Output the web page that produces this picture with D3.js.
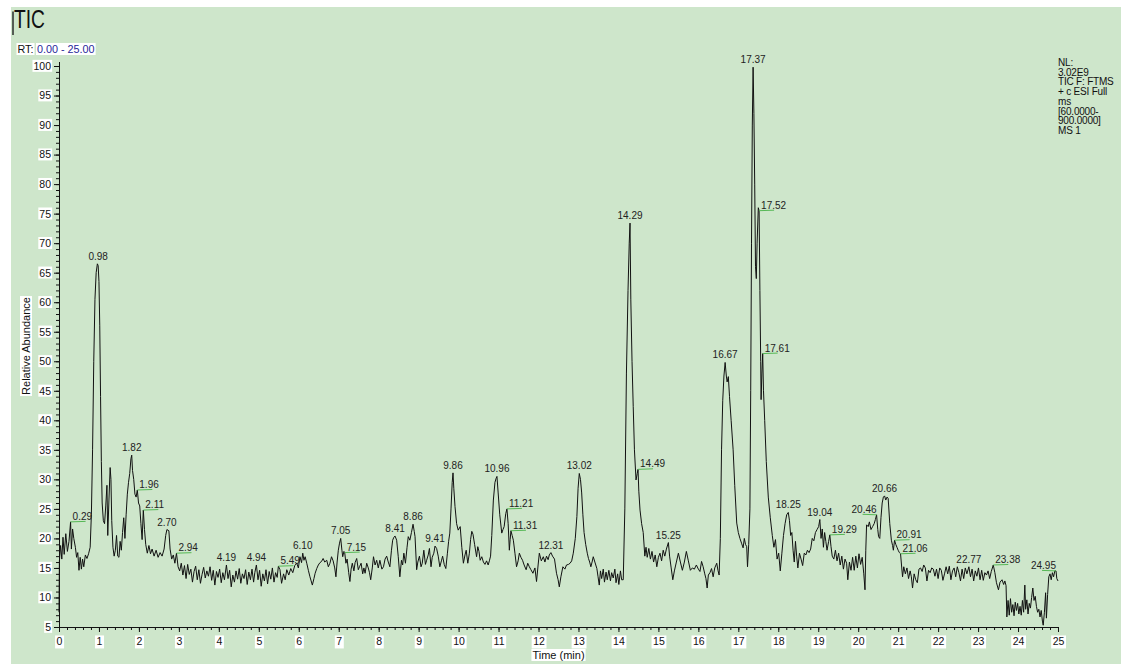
<!DOCTYPE html>
<html><head><meta charset="utf-8">
<script src="https://cdn.jsdelivr.net/npm/d3@7"></script>
<style>
html,body{margin:0;padding:0;background:#fff;}
svg{display:block;}
text{font-family:"Liberation Sans",Arial,sans-serif;}
</style></head><body>
<svg id="c" width="1121" height="664"></svg>
<script>
const xTickValues = [0,1,2,3,4,5,6,7,8,9,10,11,12,13,14,15,16,17,18,19,20,21,22,23,24,25];
const yTickValues = [5,10,15,20,25,30,35,40,45,50,55,60,65,70,75,80,85,90,95,100];
const trace = [
[0.00,7.5],[0.01,16.2],[0.04,18.8],[0.07,16.5],[0.10,20.2],[0.13,17.3],[0.17,20.8],[0.21,17.8],[0.25,19.5],[0.29,22.8],[0.31,18.2],[0.34,21.6],[0.37,20.0],[0.41,18.5],[0.44,16.8],[0.47,17.6],[0.50,14.6],[0.53,16.8],[0.56,14.8],[0.59,16.5],[0.62,15.2],[0.66,17.2],[0.70,16.6],[0.74,17.4],[0.78,18.5],[0.81,24.0],[0.84,35.0],[0.87,50.0],[0.90,60.5],[0.93,65.0],[0.96,66.5],[0.98,66.2],[1.00,63.5],[1.02,56.0],[1.04,44.0],[1.06,33.0],[1.08,26.0],[1.11,23.0],[1.14,22.5],[1.17,25.5],[1.20,29.0],[1.22,20.5],[1.25,26.5],[1.28,32.0],[1.30,30.0],[1.32,23.0],[1.35,18.5],[1.38,17.0],[1.41,18.0],[1.44,20.5],[1.47,17.0],[1.50,16.8],[1.53,19.5],[1.56,18.0],[1.59,21.0],[1.62,23.5],[1.65,20.0],[1.68,24.0],[1.71,27.5],[1.74,29.5],[1.77,31.0],[1.80,33.5],[1.82,34.1],[1.84,31.5],[1.87,30.0],[1.90,27.5],[1.93,27.0],[1.96,28.2],[1.99,26.0],[2.02,25.5],[2.05,22.5],[2.08,19.8],[2.11,24.8],[2.14,21.5],[2.17,19.0],[2.21,17.5],[2.25,18.8],[2.29,17.4],[2.33,18.2],[2.38,17.0],[2.43,18.0],[2.48,16.8],[2.53,17.6],[2.58,17.0],[2.63,18.2],[2.67,20.5],[2.70,21.5],[2.75,21.3],[2.78,18.2],[2.82,16.5],[2.86,17.2],[2.90,15.8],[2.94,17.5],[2.98,15.2],
[3.02,14.5],[3.06,15.8],[3.10,13.8],[3.14,15.4],[3.18,13.2],[3.22,15.6],[3.26,13.9],[3.30,14.8],[3.34,12.6],[3.38,14.4],[3.42,15.3],[3.46,13.0],[3.50,14.7],[3.54,12.4],[3.58,13.9],[3.62,15.1],[3.66,13.3],[3.70,14.5],[3.74,13.6],[3.78,15.2],[3.82,12.9],[3.86,14.6],[3.90,12.1],[3.94,14.4],[3.98,13.4],[4.02,14.8],[4.06,12.5],[4.10,14.2],[4.14,13.0],[4.19,15.5],[4.23,13.2],[4.27,14.6],[4.31,11.8],[4.35,13.8],[4.39,12.6],[4.43,14.5],[4.47,13.1],[4.51,14.9],[4.55,12.4],[4.59,14.0],[4.63,13.2],[4.67,14.7],[4.71,12.2],[4.75,14.3],[4.79,13.0],[4.83,14.8],[4.87,12.6],[4.90,14.2],[4.94,15.5],[4.98,13.0],[5.02,14.6],[5.06,11.9],[5.10,14.0],[5.14,12.8],[5.18,14.7],[5.22,12.3],[5.26,14.4],[5.30,13.1],[5.34,15.0],[5.38,12.6],[5.42,14.2],[5.46,13.4],[5.49,15.3],[5.53,14.7],[5.57,12.4],[5.62,14.0],[5.66,13.0],[5.70,14.7],[5.75,13.8],[5.80,14.9],[5.85,14.2],[5.90,15.4],[5.95,15.8],[5.99,15.0],
[6.03,16.9],[6.07,15.9],[6.10,17.5],[6.13,16.3],[6.16,16.9],[6.20,15.8],[6.24,14.6],[6.28,13.5],[6.31,12.8],[6.34,12.1],[6.38,13.2],[6.41,14.1],[6.45,14.9],[6.49,15.5],[6.53,15.9],[6.57,16.1],[6.61,16.6],[6.65,16.0],[6.70,16.3],[6.74,15.2],[6.78,15.8],[6.82,16.9],[6.86,16.2],[6.90,15.0],[6.93,13.5],[6.96,16.0],[6.99,18.0],[7.02,19.2],[7.05,20.0],[7.08,18.0],[7.10,16.9],[7.13,17.8],[7.15,17.6],[7.18,15.8],[7.21,16.5],[7.25,14.2],[7.28,12.7],[7.31,14.8],[7.34,15.8],[7.38,14.5],[7.41,15.9],[7.45,16.6],[7.49,14.7],[7.52,15.2],[7.56,15.8],[7.60,14.0],[7.63,15.0],[7.66,14.1],[7.70,15.8],[7.74,15.0],[7.77,14.2],[7.80,13.0],[7.84,15.0],[7.87,16.9],[7.91,15.5],[7.95,16.3],[7.99,15.0],
[8.03,16.3],[8.08,14.8],[8.12,15.2],[8.16,16.5],[8.20,17.0],[8.24,16.0],[8.28,15.2],[8.32,18.0],[8.35,19.7],[8.38,20.2],[8.41,20.4],[8.45,19.7],[8.49,16.9],[8.53,13.5],[8.57,16.3],[8.60,15.5],[8.63,17.5],[8.67,15.8],[8.71,18.5],[8.74,20.3],[8.78,19.7],[8.82,21.0],[8.86,22.4],[8.89,21.2],[8.91,20.3],[8.95,14.7],[8.98,16.0],[9.02,17.0],[9.06,15.2],[9.09,15.8],[9.13,18.0],[9.17,15.6],[9.20,16.3],[9.24,17.2],[9.27,18.3],[9.31,15.2],[9.34,16.8],[9.38,17.5],[9.41,18.7],[9.45,18.3],[9.49,17.0],[9.53,15.2],[9.57,16.2],[9.60,17.0],[9.64,15.6],[9.68,14.9],[9.72,17.5],[9.75,19.5],[9.78,20.9],[9.81,25.0],[9.84,29.5],[9.86,31.1],[9.88,28.5],[9.91,25.4],[9.95,22.5],[9.99,21.4],
[10.04,22.0],[10.08,18.5],[10.12,15.8],[10.16,17.2],[10.19,18.0],[10.23,15.8],[10.27,17.5],[10.30,19.8],[10.33,21.2],[10.36,20.7],[10.40,19.0],[10.45,16.9],[10.48,18.6],[10.51,17.8],[10.54,16.3],[10.58,16.9],[10.62,16.0],[10.66,15.6],[10.70,16.2],[10.74,15.5],[10.77,16.2],[10.80,17.0],[10.83,20.5],[10.87,26.5],[10.91,29.5],[10.94,30.2],[10.96,30.5],[10.99,27.7],[11.03,24.0],[11.08,20.9],[11.11,21.5],[11.14,22.0],[11.18,24.2],[11.21,25.0],[11.24,22.5],[11.27,18.0],[11.29,19.8],[11.31,21.3],[11.34,20.5],[11.37,19.7],[11.41,17.5],[11.45,15.2],[11.49,16.2],[11.52,17.5],[11.56,16.8],[11.60,16.3],[11.64,15.5],[11.69,14.7],[11.73,15.8],[11.77,15.2],[11.81,14.7],[11.86,14.1],[11.91,15.0],[11.95,12.7],[11.99,15.5],
[12.02,17.5],[12.07,16.2],[12.12,16.9],[12.16,16.0],[12.20,17.0],[12.24,16.4],[12.27,17.2],[12.31,17.6],[12.35,17.0],[12.40,16.5],[12.45,14.1],[12.49,13.0],[12.52,11.8],[12.56,13.5],[12.61,15.2],[12.66,14.8],[12.70,15.5],[12.75,15.6],[12.79,15.8],[12.83,16.2],[12.87,17.5],[12.92,20.0],[12.96,23.7],[12.99,28.5],[13.02,31.0],[13.05,30.0],[13.08,27.7],[13.11,24.0],[13.14,21.0],[13.18,19.0],[13.22,17.5],[13.25,16.6],[13.28,16.0],[13.31,15.2],[13.34,16.0],[13.37,16.9],[13.41,16.0],[13.46,14.9],[13.49,13.5],[13.52,12.1],[13.55,14.5],[13.58,13.2],[13.62,14.8],[13.65,12.6],[13.69,14.3],[13.72,13.0],[13.76,14.6],[13.80,12.8],[13.83,14.2],[13.87,13.3],[13.91,14.8],[13.94,12.5],[13.98,14.0],
[14.01,12.2],[14.05,14.5],[14.08,13.0],[14.12,13.0],[14.16,25.0],[14.20,48.0],[14.24,62.0],[14.27,70.0],[14.29,73.4],[14.31,60.4],[14.34,50.0],[14.37,42.3],[14.40,35.0],[14.44,29.9],[14.47,31.0],[14.49,31.7],[14.51,28.0],[14.54,24.8],[14.58,22.5],[14.62,21.0],[14.66,17.0],[14.69,18.5],[14.72,16.8],[14.76,18.3],[14.80,16.5],[14.84,17.8],[14.88,16.0],[14.92,17.2],[14.96,15.2],[15.00,16.8],[15.04,17.5],[15.08,16.2],[15.12,18.0],[15.16,17.0],[15.20,18.2],[15.25,19.3],[15.28,17.0],[15.32,15.0],[15.36,13.0],[15.40,14.5],[15.45,16.0],[15.50,17.5],[15.55,16.0],[15.60,14.6],[15.65,16.0],[15.70,17.8],[15.75,16.2],[15.80,14.6],[15.85,15.0],[15.90,14.8],[15.95,15.5],
[16.00,14.8],[16.04,14.4],[16.08,16.1],[16.12,15.2],[16.16,14.0],[16.19,13.2],[16.22,11.6],[16.25,13.8],[16.29,14.2],[16.33,14.9],[16.37,13.5],[16.41,15.0],[16.46,15.8],[16.49,14.6],[16.52,13.8],[16.55,20.0],[16.58,35.0],[16.61,43.4],[16.64,47.5],[16.67,49.8],[16.70,47.5],[16.72,46.5],[16.75,47.4],[16.78,44.0],[16.82,40.0],[16.87,35.0],[16.91,29.0],[16.96,22.6],[17.00,21.0],[17.04,20.0],[17.08,19.2],[17.12,18.4],[17.15,20.0],[17.18,19.0],[17.21,18.6],[17.23,15.2],[17.26,19.0],[17.29,25.0],[17.31,45.0],[17.33,70.0],[17.35,90.0],[17.37,99.8],[17.39,92.0],[17.41,80.0],[17.43,66.0],[17.45,64.0],[17.47,70.0],[17.50,76.0],[17.52,75.5],[17.54,62.0],[17.56,50.0],[17.57,43.5],[17.59,48.0],[17.61,51.3],[17.63,45.0],[17.66,40.0],[17.70,33.0],[17.75,27.0],[17.80,23.5],[17.85,20.5],[17.89,18.5],[17.93,19.8],[17.97,16.5],
[18.01,17.5],[18.05,14.5],[18.09,17.5],[18.13,20.5],[18.17,22.5],[18.21,24.0],[18.25,24.4],[18.28,23.0],[18.31,20.5],[18.34,21.0],[18.37,18.0],[18.40,16.0],[18.43,19.5],[18.46,17.0],[18.49,15.0],[18.53,17.5],[18.57,16.5],[18.61,15.4],[18.65,17.5],[18.69,17.2],[18.73,18.0],[18.77,17.6],[18.81,18.2],[18.85,20.0],[18.89,19.6],[18.93,21.0],[18.97,21.5],[19.01,22.0],[19.04,23.2],[19.07,20.0],[19.10,21.6],[19.13,18.5],[19.16,21.0],[19.19,19.5],[19.22,18.0],[19.26,19.5],[19.29,20.6],[19.32,18.6],[19.35,17.0],[19.39,16.5],[19.43,18.0],[19.47,16.2],[19.51,17.5],[19.55,15.5],[19.59,17.0],[19.63,14.8],[19.67,16.5],[19.71,15.8],[19.74,13.0],[19.78,16.0],[19.82,14.6],[19.86,16.8],[19.90,14.6],[19.94,17.0],[19.98,15.0],
[20.02,17.4],[20.06,15.6],[20.10,16.8],[20.14,14.0],[20.17,11.3],[20.19,18.0],[20.21,22.3],[20.25,22.0],[20.28,22.8],[20.32,21.5],[20.36,22.0],[20.40,22.5],[20.43,23.2],[20.46,24.0],[20.49,21.5],[20.51,20.3],[20.54,20.0],[20.57,23.5],[20.60,26.0],[20.63,27.0],[20.66,27.2],[20.69,26.5],[20.72,27.0],[20.75,26.8],[20.79,22.5],[20.83,19.7],[20.86,18.8],[20.88,18.0],[20.91,19.7],[20.94,19.0],[20.97,18.5],[21.00,18.0],[21.03,17.6],[21.06,17.4],[21.09,15.0],[21.11,13.5],[21.14,15.2],[21.18,14.0],[21.22,15.0],[21.26,13.2],[21.30,14.5],[21.33,13.5],[21.36,11.6],[21.40,14.0],[21.44,13.0],[21.48,12.5],[21.52,14.8],[21.56,15.0],[21.60,14.4],[21.64,15.5],[21.68,15.0],[21.72,12.8],[21.76,14.6],[21.80,14.2],[21.84,15.0],[21.88,14.8],[21.92,13.6],[21.96,14.8],
[22.00,13.2],[22.04,15.0],[22.08,14.6],[22.12,12.9],[22.16,14.0],[22.20,15.2],[22.24,14.0],[22.28,15.3],[22.32,13.0],[22.36,14.5],[22.40,15.0],[22.44,13.5],[22.48,15.2],[22.52,14.2],[22.56,12.8],[22.60,14.8],[22.64,13.2],[22.68,15.0],[22.72,14.0],[22.77,15.2],[22.81,13.5],[22.85,14.8],[22.89,12.8],[22.93,14.5],[22.97,13.6],[23.01,15.0],[23.05,13.0],[23.09,14.6],[23.13,12.9],[23.17,14.2],[23.21,13.8],[23.25,14.5],[23.29,13.2],[23.33,14.4],[23.38,15.5],[23.42,14.2],[23.46,12.5],[23.51,11.3],[23.55,12.6],[23.60,13.0],[23.64,12.2],[23.67,12.8],[23.70,12.0],[23.72,6.7],[23.75,9.5],[23.78,7.0],[23.81,9.8],[23.84,7.5],[23.87,8.8],[23.90,6.9],[23.93,9.2],[23.96,7.8],[23.99,9.0],
[24.02,7.2],[24.05,8.5],[24.08,7.0],[24.11,9.5],[24.14,7.5],[24.17,12.1],[24.19,8.0],[24.22,9.6],[24.25,7.2],[24.28,9.0],[24.31,8.2],[24.34,10.0],[24.37,11.6],[24.40,9.5],[24.43,10.2],[24.46,8.5],[24.49,7.5],[24.52,8.0],[24.55,6.7],[24.58,7.8],[24.61,6.0],[24.63,5.3],[24.66,7.5],[24.69,10.8],[24.71,6.5],[24.74,10.5],[24.77,13.5],[24.80,14.0],[24.83,13.0],[24.86,14.2],[24.89,13.5],[24.92,14.5],[24.95,14.5],[24.97,13.2],[25.00,12.8]
];
// labelled peaks: [retention time, relative abundance]
const peaks = [
[0.29,22.8],[0.98,66.5],[1.82,34.1],[1.96,28.2],[2.11,24.8],[2.70,21.5],[2.94,17.5],[4.19,15.5],[4.94,15.5],[5.49,15.3],[6.10,17.5],[7.05,20.0],[7.15,17.6],[8.41,20.4],[8.86,22.4],[9.41,18.7],[9.86,31.1],[10.96,30.5],[11.21,25.0],[11.31,21.3],[12.31,17.6],[13.02,31.0],[14.29,73.4],[14.49,31.7],[15.25,19.3],[16.67,49.8],[17.37,99.8],[17.52,75.5],[17.61,51.3],[18.25,24.4],[19.04,23.2],[19.29,20.6],[20.46,24.0],[20.66,27.2],[20.91,19.7],[21.06,17.4],[22.77,15.2],[23.38,15.5],[24.95,14.5]
];
const shoulderRight = ["0.29","1.96","2.11","2.94","5.49","7.15","11.21","11.31","14.49","17.52","17.61","19.29","20.91","21.06","23.38"];
const shoulderLeft = ["20.46","24.95"];
const infoLines = ["NL:","3.02E9","TIC F: FTMS","+ c ESI Full","ms","[60.0000-","900.0000]","MS 1"];
const titleText = "TIC";
const rangeLabel = ["RT:", "0.00 - 25.00"];
const xTitle = "Time (min)";
const yTitle = "Relative Abundance";

const svg = d3.select("#c");
const W = 1121, H = 664;
const bg = "#cee6cb";
svg.append("rect").attr("x",0).attr("y",0).attr("width",W).attr("height",H).attr("fill","#fff");
svg.append("rect").attr("x",11).attr("y",7).attr("width",W-11).attr("height",H-7).attr("fill",bg);

const x = d3.scaleLinear().domain([0,25]).range([59,1058]);
const y = d3.scaleLinear().domain([5,100]).range([627,66]);

function boxBehind(sel, pad){
  sel.each(function(){
    const b = this.getBBox();
    d3.select(this.parentNode).insert("rect", function(){return this.firstChild;}.bind(this.parentNode))
      .attr("x", b.x-pad).attr("y", b.y-pad+1).attr("width", b.width+2*pad).attr("height", b.height+2*pad-2)
      .attr("fill","#fff");
  });
}

// title
svg.append("text").attr("x",14).attr("y",28.3).attr("font-size",25.5).attr("fill","#111")
  .attr("textLength",31).attr("lengthAdjust","spacingAndGlyphs").text(titleText);
svg.append("rect").attr("x",12.3).attr("y",11.5).attr("width",1.4).attr("height",23.5).attr("fill","#222");

// RT range
const rtG = svg.append("g");
const rt1 = rtG.append("g").append("text").attr("x",17.5).attr("y",53).attr("font-size",10.8).attr("fill","#111").text(rangeLabel[0]);
const rt2 = rtG.append("g").append("text").attr("x",37).attr("y",53).attr("font-size",10.8).attr("fill","#27279a").text(rangeLabel[1]);
boxBehind(rt1,1); boxBehind(rt2,1);

// axes
const yMinor = svg.append("g").attr("transform","translate(59,0)")
  .call(d3.axisLeft(y).tickValues(d3.range(5,101,1)).tickSize(3).tickFormat("").tickSizeOuter(0));
yMinor.select(".domain").remove();
const yMajor = svg.append("g").attr("transform","translate(59,0)")
  .call(d3.axisLeft(y).tickValues(yTickValues).tickSize(5).tickSizeOuter(0).tickPadding(3));
yMajor.selectAll("line").attr("stroke","#111");
yMinor.selectAll("line").attr("stroke","#111");
yMajor.select(".domain").attr("stroke","#111").attr("d","M0.5,62V627.5");
yMajor.selectAll("text").attr("font-size",10.5).attr("font-family","Liberation Sans, Arial, sans-serif").attr("fill","#111");
yMajor.selectAll(".tick").each(function(){
  const t = d3.select(this).select("text");
  const b = t.node().getBBox();
  d3.select(this).insert("rect","text").attr("x",b.x-1).attr("y",b.y).attr("width",b.width+2).attr("height",b.height).attr("fill","#fff");
});

const xMinor = svg.append("g").attr("transform","translate(0,627)")
  .call(d3.axisBottom(x).tickValues(d3.range(0,125,1).map(d=>d/5)).tickSize(3).tickFormat("").tickSizeOuter(0));
xMinor.select(".domain").remove();
xMinor.selectAll("line").attr("stroke","#111");
const xMajor = svg.append("g").attr("transform","translate(0,627)")
  .call(d3.axisBottom(x).tickValues(xTickValues).tickSize(5).tickSizeOuter(0).tickPadding(6).tickFormat(d3.format("d")));
xMajor.selectAll("line").attr("stroke","#111");
xMajor.select(".domain").attr("stroke","#111");
xMajor.selectAll("text").attr("font-size",10.5).attr("font-family","Liberation Sans, Arial, sans-serif").attr("fill","#111");
xMajor.selectAll(".tick").each(function(){
  const t = d3.select(this).select("text");
  const b = t.node().getBBox();
  d3.select(this).insert("rect","text").attr("x",b.x-1.5).attr("y",b.y).attr("width",b.width+3).attr("height",b.height+1).attr("fill","#fff");
});

// axis titles
const xt = svg.append("g").append("text").attr("x",558.5).attr("y",659).attr("text-anchor","middle")
  .attr("font-size",11).attr("fill","#111").text(xTitle);
boxBehind(xt,1);
const ytG = svg.append("g").attr("transform","translate(30,346) rotate(-90)");
const yt = ytG.append("text").attr("x",0).attr("y",0).attr("text-anchor","middle")
  .attr("font-size",11).attr("fill","#111").text(yTitle);
boxBehind(yt,1);

// trace
const line = d3.line().x(d=>x(d[0])).y(d=>y(d[1]));
svg.append("path").datum(trace).attr("d",line).attr("fill","none").attr("stroke","#111").attr("stroke-width",1).attr("stroke-linejoin","round");

// peak labels
const lg = svg.append("g").attr("font-size",10).attr("fill","#222");
peaks.forEach(p=>{
  const lab = p[0].toFixed(2);
  const px = x(p[0]), py = y(p[1]);
  if (shoulderRight.includes(lab)) {
    lg.append("line").attr("x1",px).attr("y1",py).attr("x2",px+15).attr("y2",py-0.5).attr("stroke","#55b855").attr("stroke-width",1);
    lg.append("text").attr("x",px+2).attr("y",py-2).text(lab);
  } else if (shoulderLeft.includes(lab)) {
    lg.append("line").attr("x1",px-14).attr("y1",py-0.5).attr("x2",px).attr("y2",py).attr("stroke","#55b855").attr("stroke-width",1);
    lg.append("text").attr("x",px).attr("y",py-2).attr("text-anchor","end").text(lab);
  } else {
    lg.append("text").attr("x",px).attr("y",py-4).attr("text-anchor","middle").text(lab);
  }
});

// info block
const ig = svg.append("g").attr("font-size",10).attr("fill","#111").attr("letter-spacing","-0.2");
infoLines.forEach((s,i)=>{
  ig.append("text").attr("x",1058).attr("y",66+i*9.7).text(s);
});
</script>
</body></html>
